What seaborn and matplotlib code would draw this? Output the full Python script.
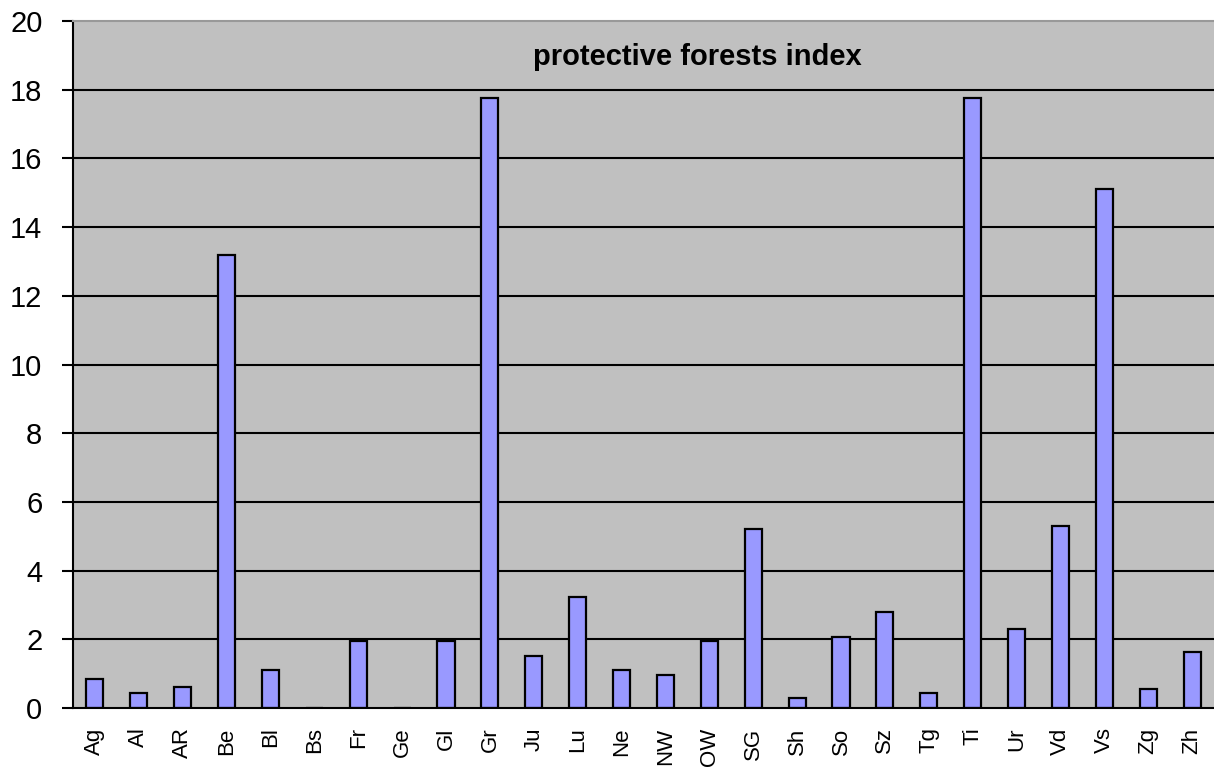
import matplotlib
matplotlib.use("Agg")
import matplotlib.pyplot as plt
import seaborn as sns
import pandas as pd
import numpy as np
from matplotlib.ticker import FixedLocator

cantons = ["Ag", "Al", "AR", "Be", "Bl", "Bs", "Fr", "Ge", "Gl", "Gr", "Ju", "Lu", "Ne",
           "NW", "OW", "SG", "Sh", "So", "Sz", "Tg", "Ti", "Ur", "Vd", "Vs", "Zg", "Zh"]
index_values = [0.85, 0.43, 0.60, 13.2, 1.10, 0.0, 1.95, 0.0, 1.95, 17.75, 1.52, 3.23, 1.10,
                0.97, 1.95, 5.2, 0.30, 2.06, 2.8, 0.43, 17.75, 2.3, 5.3, 15.1, 0.54, 1.64]
y_ticks = list(range(0, 21, 2))
title = "protective forests index"

sns.set_theme(style="white")
plt.rcParams["font.family"] = ["Liberation Sans", "DejaVu Sans"]

df = pd.DataFrame({"canton": cantons, "value": index_values})

fig = plt.figure(figsize=(12.14, 7.67), dpi=100)
ax = fig.add_axes([73 / 1214, 59 / 767, 1 - 73 / 1214, (708 - 21) / 767])
ax.set_facecolor("#c0c0c0")
ax.set_axisbelow(True)

sns.barplot(data=df, x="canton", y="value", order=cantons, color="#9999ff",
            width=0.39, edgecolor="black", linewidth=1.6, saturation=1, ax=ax)

ax.set_ylim(0, 20)
ax.set_xlim(-0.5, len(cantons) - 0.5)
ax.set_yticks(y_ticks)
ax.set_yticklabels([str(t) for t in y_ticks], fontsize=21, color="black")
for t in y_ticks[1:-1]:
    ax.axhline(t, color="black", linewidth=1.5, zorder=0.5)

ax.set_xticks(range(len(cantons)))
ax.set_xticklabels(cantons, rotation=90, fontsize=16, color="black")
ax.xaxis.set_minor_locator(FixedLocator(np.arange(-0.5, len(cantons), 1.0)))
ax.tick_params(axis="x", which="major", length=0, pad=14)
ax.tick_params(axis="x", which="minor", length=7, width=1.5, color="black", direction="out")
ax.tick_params(axis="y", which="major", length=8, width=1.5, color="black",
               direction="out", pad=14, left=True)

ax.set_xlabel("")
ax.set_ylabel("")

for side in ["left", "bottom"]:
    ax.spines[side].set_color("black")
    ax.spines[side].set_linewidth(1.5)
ax.spines["top"].set_color("#999999")
ax.spines["top"].set_linewidth(1.5)
ax.spines["right"].set_visible(False)

ax.text(0.547, 0.948, title, transform=ax.transAxes, ha="center", va="center",
        fontsize=21, fontweight="bold", color="black")

fig.savefig("out.png", dpi=100)
